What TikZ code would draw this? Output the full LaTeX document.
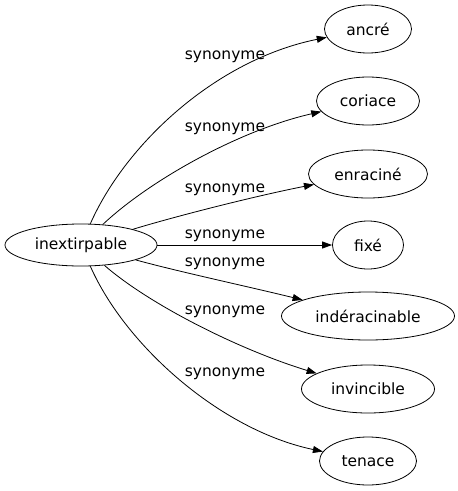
\documentclass[tikz,border=0pt]{standalone}
\usepackage{fontspec}
\setmainfont{DejaVu Sans}
\usetikzlibrary{arrows.meta,shapes.geometric,positioning}

\begin{document}
\begin{tikzpicture}[x=1pt,y=-1pt,->,>={Triangle[length=10pt,width=7pt]},
                    line width=0.8pt,font=\fontsize{15.5}{18}\selectfont]
  \tikzstyle{word}=[ellipse,draw,inner sep=0pt,minimum height=48pt,text=black]
  \tikzstyle{rel}=[inner sep=0pt,text=black]
  \useasboundingbox (0,0) rectangle (458,491);

  \node[word,minimum width=152pt,minimum height=42pt] (I) at (81,245) {inextirpable};
  \node[word,minimum width=87pt]  (A) at (368,29)  {ancré};
  \node[word,minimum width=103pt] (B) at (368,101) {coriace};
  \node[word,minimum width=119pt] (C) at (368,174) {enraciné};
  \node[word,minimum width=71pt]  (D) at (368,245) {fixé};
  \node[word,minimum width=173pt] (E) at (368,316) {indéracinable};
  \node[word,minimum width=133pt] (F) at (368,389) {invincible};
  \node[word,minimum width=97pt]  (G) at (368,461) {tenace};

  \node[rel] (lA) at (225,57)  {synonyme};
  \node[rel] (lB) at (225,129) {synonyme};
  \node[rel] (lC) at (225,190) {synonyme};
  \node[rel] (lD) at (225,236) {synonyme};
  \node[rel] (lE) at (225,264) {synonyme};
  \node[rel] (lF) at (225,312) {synonyme};
  \node[rel] (lG) at (225,374) {synonyme};

  \draw (I) .. controls (125,145) and (215,60) .. (A);
  \draw (I) .. controls (150,180) and (240,130) .. (B);
  \draw (I) .. controls (180,215) and (260,195) .. (C);
  \draw (I) -- (D);
  \draw (I) .. controls (180,272) and (250,287) .. (E);
  \draw (I) .. controls (150,305) and (240,350) .. (F);
  \draw (I) .. controls (125,345) and (220,430) .. (G);
\end{tikzpicture}
\end{document}
